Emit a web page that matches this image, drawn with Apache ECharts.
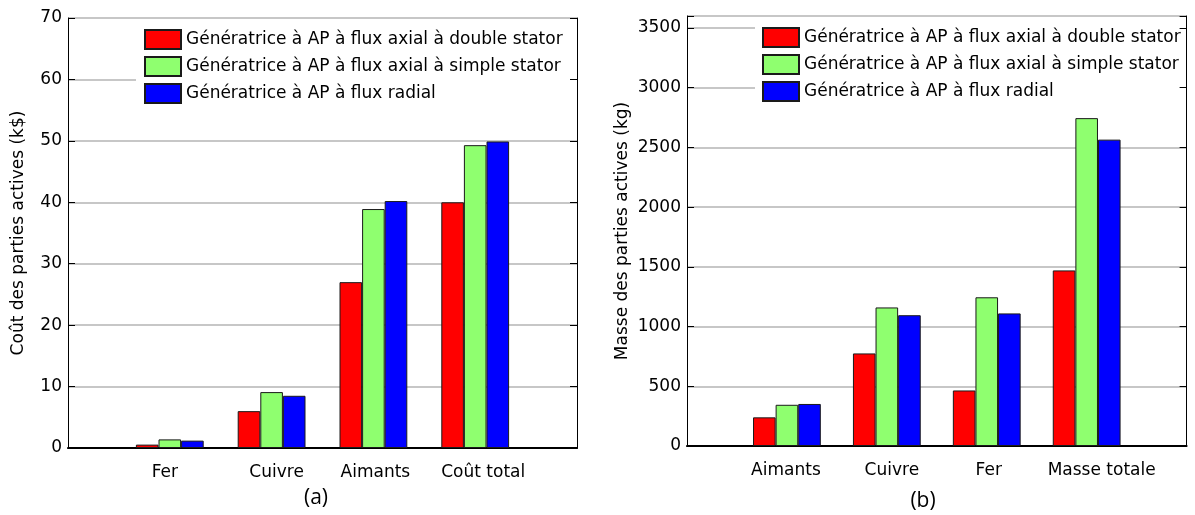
<!DOCTYPE html>
<html>
<head>
<meta charset="utf-8">
<title>Coût et masse des parties actives</title>
<script src="https://cdn.jsdelivr.net/npm/echarts@6/dist/echarts.min.js"></script>
<style>
html, body { margin: 0; padding: 0; background: #fff; }
#chart { width: 1195px; height: 515px; }
</style>
</head>
<body>
<div id="chart"></div>
<script>
// noms des séries (légende)
var seriesNames = [
    'Génératrice à AP à flux axial à double stator',
    'Génératrice à AP à flux axial à simple stator',
    'Génératrice à AP à flux radial'
];
var seriesColors = ['#ff0000', '#8fff6f', '#0000ff'];

// (a) coût des parties actives, k$
var coutCategories = ['Fer', 'Cuivre', 'Aimants', 'Coût total'];
var coutDouble = [0.55, 6.0, 27.0, 40.0];
var coutSimple = [1.4, 9.1, 38.9, 49.3];
var coutRadial = [1.2, 8.5, 40.2, 49.9];
var coutTicks = [0, 10, 20, 30, 40, 50, 60, 70];
var coutMax = 70;

// (b) masse des parties actives, kg
var masseCategories = ['Aimants', 'Cuivre', 'Fer', 'Masse totale'];
var masseDouble = [240, 775, 465, 1470];
var masseSimple = [345, 1160, 1245, 2745];
var masseRadial = [352, 1095, 1110, 2565];
var masseTicks = [0, 500, 1000, 1500, 2000, 2500, 3000, 3500];
var masseMax = 3600;

var font = 'DejaVu Sans';

// un emplacement vide de chaque côté (xlim [0,5] sous matlab)
function padVals(v) { return [null].concat(v, [null]); }
// les étiquettes du bas ont été posées à la main (text), petit décalage en px
function padCats(c, shift) {
    var items = c.map(function (name, j) {
        var d = shift[j];
        return {
            value: name,
            textStyle: { padding: d >= 0 ? [0, 0, 0, 2 * d] : [0, -2 * d, 0, 0] }
        };
    });
    return [' '].concat(items, ['  ']);
}

var charts = [
    {
        grid: { left: 68, top: 18, width: 509, height: 430 },
        cats: coutCategories, shift: [-5, 5, 2, 8],
        values: [coutDouble, coutSimple, coutRadial],
        ticks: coutTicks, max: coutMax,
        name: 'Coût des parties actives (k$)', nameGap: 41,
        legend: { left: 136, top: 19, padding: [10, 30, 10, 8] },
        title: { text: '(a)', left: 316, top: 488 }
    },
    {
        grid: { left: 687, top: 16, width: 505, height: 430 },
        cats: masseCategories, shift: [-1, 5, 2, 15],
        values: [masseDouble, masseSimple, masseRadial],
        ticks: masseTicks, max: masseMax,
        name: 'Masse des parties actives (kg)', nameGap: 56,
        legend: { left: 755, top: 17, padding: [10, 30, 10, 7] },
        title: { text: '(b)', left: 923, top: 491 }
    }
];

var option = {
    animation: false,
    backgroundColor: '#fff',
    title: [], grid: [], xAxis: [], yAxis: [], legend: [], series: []
};

charts.forEach(function (c, i) {
    var cats = padCats(c.cats, c.shift);
    var interval = c.ticks[1] - c.ticks[0];
    option.grid.push(c.grid);
    option.title.push({
        text: c.title.text, left: c.title.left, top: c.title.top,
        textAlign: 'center', padding: 0,
        textStyle: { fontFamily: 'Open Sans', fontSize: 21, fontWeight: 'normal', color: '#000' }
    });
    // axe du bas
    option.xAxis.push({
        type: 'category', gridIndex: i, data: cats, boundaryGap: false,
        axisLine: { lineStyle: { color: '#000', width: 2 } },
        axisTick: { show: false },
        axisLabel: { interval: 0, color: '#000', fontFamily: font, fontSize: 17, margin: 16 },
        splitLine: { show: false }
    });
    // cadre du haut
    option.xAxis.push({
        type: 'category', gridIndex: i, data: cats, boundaryGap: false, position: 'top', z: 10,
        axisLine: { lineStyle: { color: '#000', width: 1 } },
        axisTick: { show: false }, axisLabel: { show: false }, splitLine: { show: false }
    });
    // axe de gauche
    option.yAxis.push({
        type: 'value', gridIndex: i, min: c.ticks[0], max: c.max, interval: interval,
        name: c.name, nameLocation: 'middle', nameGap: c.nameGap,
        nameTextStyle: { fontFamily: font, fontSize: 17, color: '#000' },
        axisLine: { show: true, lineStyle: { color: '#000', width: 1 } },
        axisTick: { show: true, inside: true, length: 7, lineStyle: { color: '#000' } },
        axisLabel: {
            color: '#000', fontFamily: font, fontSize: 17, margin: 6,
            formatter: function (v) { return c.ticks.indexOf(v) >= 0 ? String(v) : ''; }
        },
        splitLine: { show: true, lineStyle: { color: '#b4b4b4', width: 1.5 } }
    });
    // cadre de droite
    option.yAxis.push({
        type: 'value', gridIndex: i, position: 'right', min: c.ticks[0], max: c.max, interval: interval, z: 10,
        axisLine: { show: true, lineStyle: { color: '#000', width: 1 } },
        axisTick: { show: true, inside: true, length: 7, lineStyle: { color: '#000' } },
        axisLabel: { show: false }, splitLine: { show: false }
    });
    option.legend.push({
        data: seriesNames, orient: 'vertical', icon: 'rect',
        left: c.legend.left, top: c.legend.top, padding: c.legend.padding,
        itemWidth: 36, itemHeight: 19, itemGap: 6,
        backgroundColor: '#fff', selectedMode: false,
        textStyle: { fontFamily: font, fontSize: 17, color: '#000' }
    });
    c.values.forEach(function (vals, k) {
        option.series.push({
            name: seriesNames[k], type: 'bar',
            xAxisIndex: i * 2, yAxisIndex: i * 2,
            barWidth: 22.6, barGap: '0%',
            itemStyle: { color: seriesColors[k], borderColor: '#1a1a1a', borderWidth: 1 },
            data: padVals(vals)
        });
    });
});

var myChart = echarts.init(document.getElementById('chart'));
myChart.setOption(option);
</script>
</body>
</html>
